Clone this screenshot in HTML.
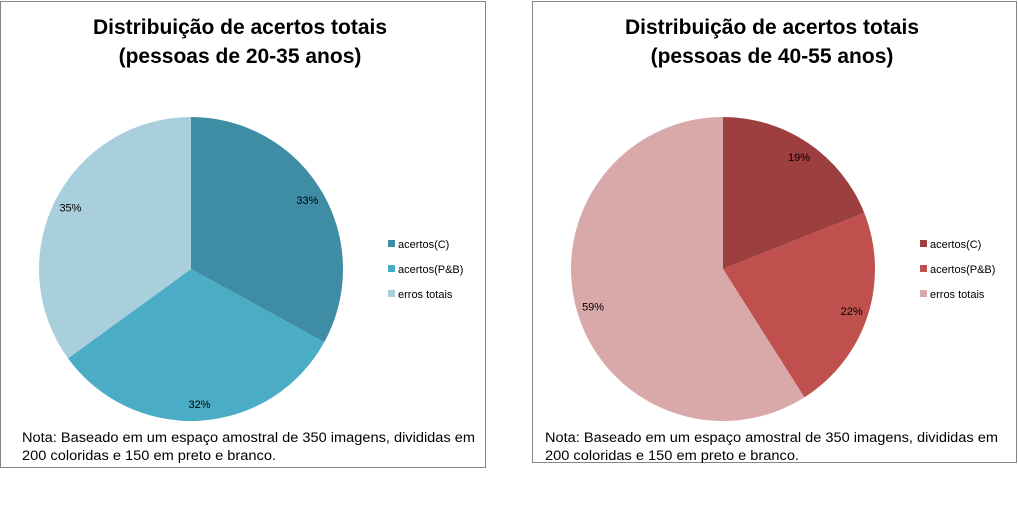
<!DOCTYPE html>
<html><head><meta charset="utf-8"><style>
body{margin:0;background:#fff;font-family:"Liberation Sans",sans-serif;}
svg text{font-family:"Liberation Sans",sans-serif;}
</style></head><body>
<svg width="1018" height="500" viewBox="0 0 1018 500">
<g id="g1"></g>
<g id="g2"></g>
</svg>
<script>
const categories=["acertos(C)","acertos(P&B)","erros totais"];
const valuesYoung=[33,32,35];
const valuesOld=[19,22,59];
const colorsYoung=["#3E8DA5","#4BACC6","#A9CEDC"];
const colorsOld=["#9E3F3F","#C0504D","#D9A9A9"];
const NS="http://www.w3.org/2000/svg";
function mk(t,a,p){const e=document.createElementNS(NS,t);for(const k in a)e.setAttribute(k,a[k]);p.appendChild(e);return e;}
function draw(g,x0,w,h,title2,vals,cols,key,nx){
  const r=mk('rect',{x:x0+0.5,y:1.5,width:w,height:h,fill:'#fff',stroke:'#868686'},g);
  
  const tt=["Distribuição de acertos totais",title2];
  tt.forEach((s,i)=>{const t=mk('text',{x:x0+240,y:34+i*29,'text-anchor':'middle','font-size':21,'font-weight':'bold',fill:'#000'},g);t.textContent=s;
    });
  const cx=x0+191,cy=269,R=152;
  const tot=vals.reduce((a,b)=>a+b,0);let a0=-Math.PI/2;
  vals.forEach((v,i)=>{const a1=a0+v/tot*2*Math.PI;
    const p=mk('path',{d:`M${cx},${cy}L${cx+R*Math.cos(a0)},${cy+R*Math.sin(a0)}A${R},${R} 0 ${a1-a0>Math.PI?1:0} 1 ${cx+R*Math.cos(a1)},${cy+R*Math.sin(a1)}Z`,fill:cols[i]},g);
    
    const am=(a0+a1)/2,lr=R*0.89;
    const t=mk('text',{x:cx+lr*Math.cos(am),y:cy+lr*Math.sin(am)+4,'text-anchor':'middle','font-size':11,fill:'#000'},g);
    t.textContent=v+'%';
    a0=a1;});
  categories.forEach((c,i)=>{const y=244+i*25;
    const s=mk('rect',{x:x0+388,y:y-4,width:7,height:7,fill:cols[i]},g);
    
    const t=mk('text',{x:x0+398,y:y+4,'font-size':11,fill:'#000'},g);t.textContent=c;
    });
  const notes=["Nota: Baseado em um espaço amostral de 350 imagens, divididas em","200 coloridas e 150 em preto e branco."];
  const lens=[453,254];
  notes.forEach((s,i)=>{
    const t=mk('text',{x:x0+nx,y:442+i*18,'font-size':13.5,fill:'#000',textLength:lens[i],lengthAdjust:'spacingAndGlyphs'},g);t.textContent=s;
    });
}
draw(document.getElementById('g1'),0,485,466,"(pessoas de 20-35 anos)",valuesYoung,colorsYoung,'young',22);
draw(document.getElementById('g2'),532,484,461,"(pessoas de 40-55 anos)",valuesOld,colorsOld,'old',13);
</script>
</body></html>
